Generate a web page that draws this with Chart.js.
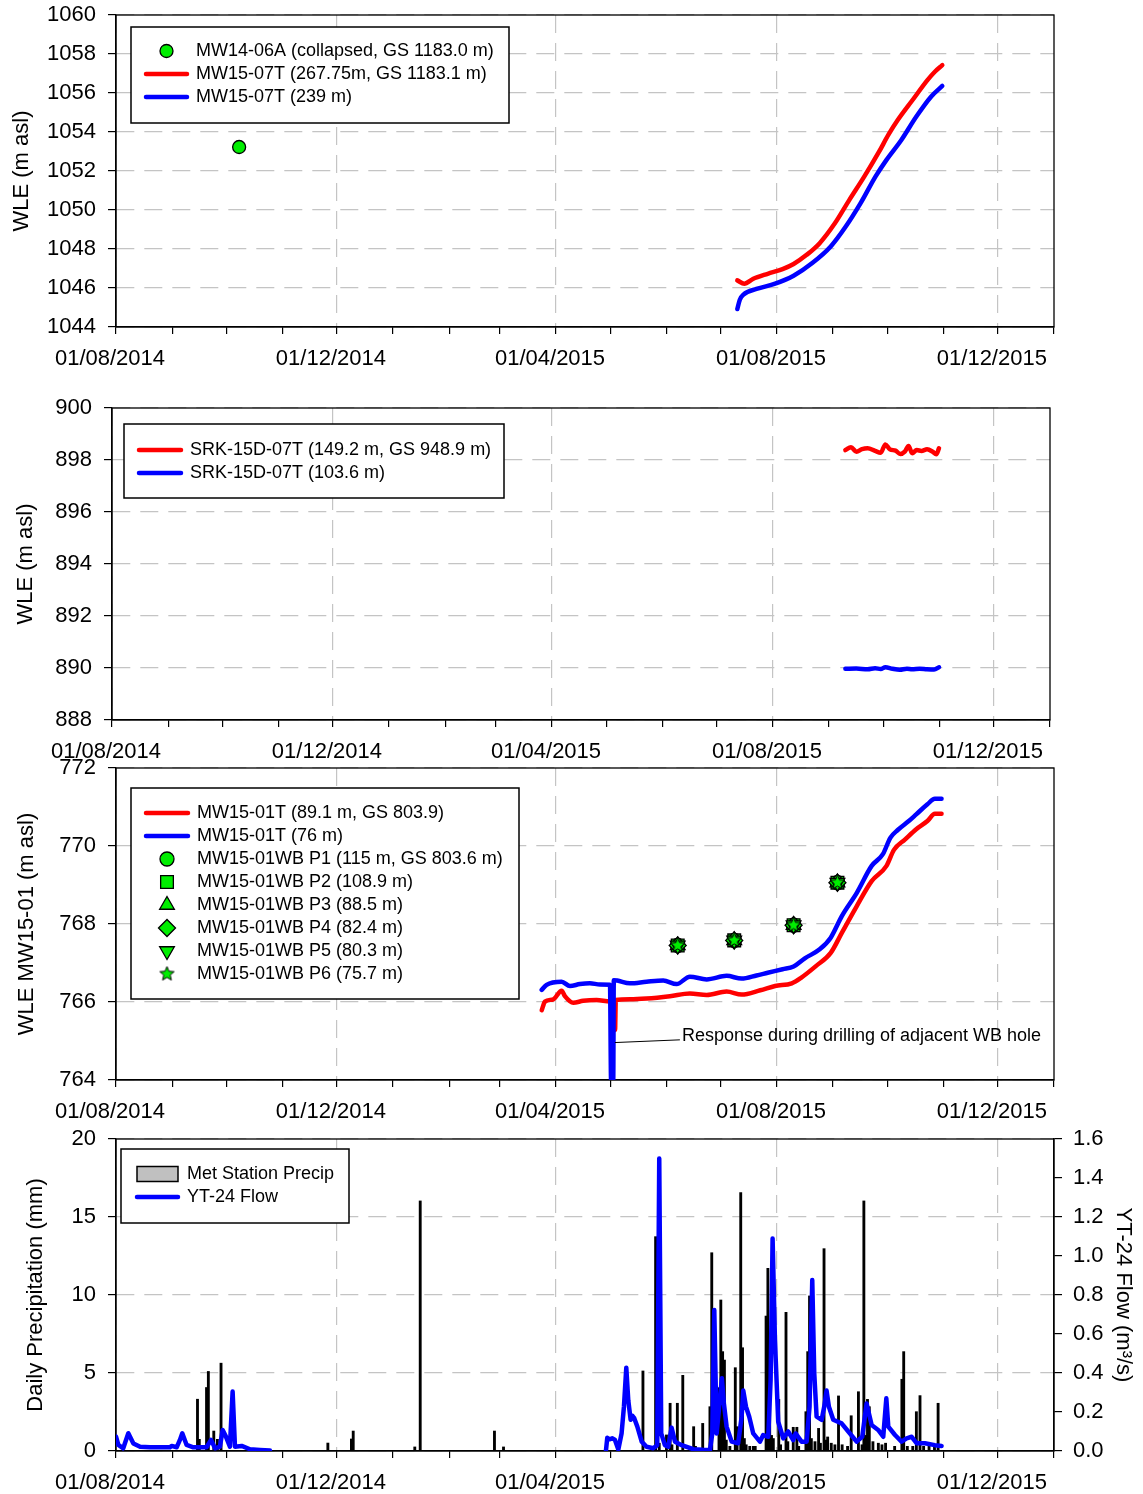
<!DOCTYPE html>
<html>
<head>
<meta charset="utf-8">
<script src="https://cdn.jsdelivr.net/npm/chart.js@4.4.1/dist/chart.umd.min.js"></script>
<style>
    html, body { margin: 0; padding: 0; background: #fff; }
    #wrap { position: relative; width: 1143px; height: 1494px; overflow: hidden; }
    canvas { position: absolute; left: 0; }
</style>
</head>
<body>
<div id="wrap">
    <canvas id="c1" width="1143" height="380" style="top:0px"></canvas>
    <canvas id="c2" width="1143" height="380" style="top:390px"></canvas>
    <canvas id="c3" width="1143" height="380" style="top:750px"></canvas>
    <canvas id="c4" width="1143" height="374" style="top:1120px"></canvas>
</div>
<script>
(function () {
    'use strict';

    /* ── Time axis: x values are days after 01/08/2014 ───── */
    var X_MIN = 0, X_MAX = 518;
    var majorDays   = [0, 122, 243, 365, 487];
    var majorLabels = ['01/08/2014', '01/12/2014', '01/04/2015', '01/08/2015', '01/12/2015'];
    var monthDays   = [0, 31, 61, 92, 122, 153, 184, 212, 243, 273, 304, 334, 365, 396, 426, 457, 487, 518];

    /* ── Panel 1: MW14-06A / MW15-07T ─────────────────────── */
    var mw1406Day = [68];
    var mw1406Wle = [1053.23];
    var mw1507aDay = [343.1, 347, 351.7, 359.9, 368.1, 374.2, 381.4, 388.6, 396.8, 405, 413.2, 421.4, 426.5, 431.7, 439.9, 448.1, 452.2, 456.3];
    var mw1507aWle = [1046.39, 1046.22, 1046.46, 1046.73, 1046.97, 1047.23, 1047.70, 1048.30, 1049.29, 1050.52, 1051.71, 1052.99, 1053.85, 1054.61, 1055.64, 1056.66, 1057.09, 1057.43];
    var mw1507bDay = [343.1, 344.5, 346.5, 353.7, 364, 374.2, 384.5, 394.7, 403, 411.2, 419.4, 425.5, 433.7, 441.9, 450.1, 456.3];
    var mw1507bWle = [1044.92, 1045.40, 1045.66, 1045.95, 1046.22, 1046.63, 1047.28, 1048.13, 1049.15, 1050.35, 1051.71, 1052.57, 1053.59, 1054.78, 1055.81, 1056.36];

    /* ── Panel 2: SRK-15D-07T ─────────────────────────────── */
    var srkaDay = [405, 408.1, 411.1, 414.2, 417.3, 421.4, 424.5, 427.1, 429.6, 432.7, 435.3, 437.8, 439.9, 441.9, 444.4, 447, 450.1, 453.2, 455.2, 456.7];
    var srkaWle = [898.38, 898.49, 898.32, 898.42, 898.45, 898.35, 898.28, 898.60, 898.41, 898.36, 898.23, 898.32, 898.54, 898.26, 898.38, 898.35, 898.41, 898.32, 898.22, 898.45];
    var srkbDay = [405, 411, 417.3, 421.4, 424.5, 427.1, 431, 435, 439, 441.9, 446, 450, 454, 456.7];
    var srkbWle = [889.97, 889.98, 889.95, 889.99, 889.96, 890.03, 889.97, 889.93, 889.97, 889.95, 889.97, 889.95, 889.94, 890.03];

    /* ── Panel 3: MW15-01T and MW15-01WB ──────────────────── */
    var mw1501aDay = [235.1, 236.9, 241.5, 246.1, 247.9, 252.5, 258, 265.4, 272.8, 275.4, 275.6, 276.0, 283.8, 293, 305.9, 316.9, 326.2, 337.2, 345.5, 355.8, 364, 373.2, 378.3, 386.5, 394.7, 400.9, 409.1, 417.3, 425.5, 429.6, 435.8, 441.9, 448.1, 452.2, 455.9];
    var mw1501aWle = [765.79, 766.01, 766.07, 766.29, 766.15, 765.98, 766.03, 766.05, 766.01, 766.00, 765.28, 766.05, 766.07, 766.09, 766.15, 766.22, 766.18, 766.27, 766.19, 766.30, 766.41, 766.48, 766.62, 766.92, 767.26, 767.78, 768.46, 769.10, 769.49, 769.90, 770.17, 770.43, 770.64, 770.83, 770.83];
    var mw1501bDay = [235.1, 237.8, 246.1, 250.7, 256.2, 261.7, 267.3, 272.8, 273.4, 274.6, 274.9, 276.8, 283.8, 293, 302.2, 309.6, 316.9, 326.2, 337.2, 345.5, 353.7, 359.9, 368.1, 374.2, 380.4, 388.6, 394.7, 400.9, 409.1, 417.3, 423.5, 427.6, 431.7, 437.8, 441.9, 448.1, 452.2, 455.9];
    var mw1501bWle = [766.31, 766.44, 766.52, 766.41, 766.46, 766.48, 766.45, 766.44, 764.0, 764.0, 766.56, 766.55, 766.48, 766.52, 766.55, 766.46, 766.65, 766.58, 766.67, 766.60, 766.68, 766.75, 766.84, 766.91, 767.12, 767.35, 767.65, 768.21, 768.80, 769.49, 769.79, 770.21, 770.41, 770.64, 770.81, 771.07, 771.21, 771.21];
    var wbDay = [310.2, 341.4, 374.2, 398.4];
    var wbP1 = [767.45, 767.58, 767.97, 769.06];
    var wbP2 = [767.45, 767.58, 767.97, 769.06];
    var wbP3 = [767.45, 767.58, 767.97, 769.06];
    var wbP4 = [767.45, 767.58, 767.97, 769.06];
    var wbP5 = [767.45, 767.58, 767.97, 769.06];
    var wbP6 = [767.45, 767.58, 767.97, 769.06];
    var noteText = 'Response during drilling of adjacent WB hole';
    var noteFrom = [275.5, 764.96];
    var noteTo   = [311.4, 765.03];

    /* ── Panel 4: precipitation and YT-24 flow ────────────── */
    var precipDay = [45, 46, 50, 51, 54, 56, 58, 117, 130, 131, 165, 168, 209, 214,
        291, 298, 300, 304, 306, 307, 310, 313, 319, 320, 324, 328, 329, 333, 334, 335, 336, 337, 339,
        342, 343, 345, 346, 347, 348, 350, 352, 353, 359, 360, 361, 362, 363, 366, 367, 370, 371,
        374, 376, 377, 381, 382, 383, 384, 386, 388, 389, 391, 392, 393, 395, 397, 399, 401, 404,
        406, 410, 412, 413, 414, 415, 416, 418, 421, 423, 425, 430, 434, 435, 437, 440, 442, 444,
        446, 449, 452, 454];
    var precipMm = [3.32, 0.75, 4.07, 5.10, 1.28, 0.75, 5.63, 0.51, 0.77, 1.28, 0.26, 16.03, 1.28, 0.26,
        5.13, 13.74, 0.5, 1.03, 3.06, 0.4, 3.06, 4.85, 1.56, 0.3, 1.77, 2.84, 12.71, 4.06, 9.68, 6.37, 5.83, 0.7, 0.3,
        5.34, 1.56, 16.56, 6.62, 0.8, 0.4, 0.3, 0.3, 0.3, 8.65, 11.71, 5.09, 1.0, 0.8, 3.31, 0.4, 8.89, 0.6,
        1.52, 1.52, 0.3, 2.52, 6.37, 9.94, 0.8, 0.6, 1.45, 0.5, 12.97, 0.7, 0.9, 0.5, 0.4, 3.53, 0.4, 0.3,
        2.26, 3.80, 0.4, 16.03, 1.0, 3.31, 2.84, 0.6, 0.5, 0.4, 0.5, 0.3, 4.6, 6.37, 0.3, 0.3, 2.52, 3.55,
        0.3, 0.3, 0.3, 3.06];
    var flowDay = [0, 1.3, 4, 6.8, 9.6, 13.3, 18.8, 29.8, 30.7, 33.5, 35.3, 36.6, 39, 42.7, 50, 52.5, 54.7, 57.4, 58.9, 60.7, 62.9, 64.4, 65.7, 69.4, 74, 79.5, 85,
        178,
        270.6, 271.3, 272.5, 274, 275.5, 277.4, 279.2, 280.5, 281.8, 282.9, 284.2, 285.2, 286.2, 287.9, 290.3, 293, 296.7, 298.9, 300, 301.1, 303.1, 305, 306.8, 308.7, 312.4, 318.8, 324, 328,
        329.3, 330.4, 331.7, 333.1, 334.6, 335.7, 337.2, 340, 343.6, 345.5, 346.4, 347.9, 349.7, 351.9, 355.6, 357.4, 360.2, 361.5, 362.6, 363.9, 365.7, 368.5, 371.2, 374, 375.3, 378.6,
        381.4, 383, 384.5, 385.6, 386.9, 389.7, 391.1, 392.4, 393.7, 396.1, 400.7, 404.4, 409, 412.1, 414.5, 417.3, 420.9, 423.7, 425.4, 426.5, 430.2, 433.8, 436.6, 439.4, 442.1, 446.7, 452.2, 455.9];
    var flowM3s = [0.074, 0.031, 0.014, 0.091, 0.039, 0.022, 0.019, 0.019, 0.026, 0.019, 0.057, 0.091, 0.031, 0.019, 0.019, 0.057, 0.014, 0.022, 0.108, 0.074, 0.022, 0.305, 0.022, 0.026, 0.009, 0.005, 0.002,
        null,
        0.005, 0.068, 0.06, 0.065, 0.058, 0.008, 0.09, 0.227, 0.427, 0.26, 0.16, 0.18, 0.168, 0.125, 0.048, 0.022, 0.014, 0.03, 1.50, 0.09, 0.03, 0.022, 0.12, 0.048, 0.03, 0.009, 0.006, 0.005,
        0.09, 0.723, 0.09, 0.227, 0.373, 0.244, 0.125, 0.048, 0.04, 0.176, 0.31, 0.227, 0.176, 0.09, 0.048, 0.082, 0.073, 0.364, 1.09, 0.57, 0.15, 0.065, 0.1, 0.056, 0.09, 0.048,
        0.048, 0.227, 0.877, 0.4, 0.176, 0.16, 0.227, 0.31, 0.227, 0.16, 0.142, 0.1, 0.048, 0.073, 0.244, 0.133, 0.108, 0.073, 0.27, 0.125, 0.082, 0.048, 0.065, 0.073, 0.04, 0.04, 0.03, 0.026];

    /* ── Style ────────────────────────────────────────────── */
    var FONT  = '"Liberation Sans", Arial, Helvetica, sans-serif';
    var RED   = '#ff0000';
    var BLUE  = '#0000ff';
    var GREEN = '#00ee00';
    var GRID  = '#c4c4c4';
    var DASH  = [18, 10];

    Chart.defaults.font.family = FONT;
    Chart.defaults.color = '#000';
    Chart.defaults.animation = false;
    Chart.defaults.events = [];
    Chart.defaults.plugins.legend.display = false;
    Chart.defaults.plugins.tooltip.enabled = false;

    /* ── Helpers ──────────────────────────────────────────── */
    function pts(xs, ys) {
        return xs.map(function (x, i) { return { x: x, y: ys[i] }; });
    }

    function starImage(r) {
        var c = document.createElement('canvas');
        var s = Math.ceil(r * 2 + 4);
        c.width = s; c.height = s;
        var g = c.getContext('2d');
        g.beginPath();
        for (var i = 0; i < 10; i++) {
            var rad = i % 2 ? r * 0.45 : r;
            var a = -Math.PI / 2 + i * Math.PI / 5;
            g.lineTo(s / 2 + rad * Math.cos(a), s / 2 + rad * Math.sin(a));
        }
        g.closePath();
        g.fillStyle = GREEN; g.fill();
        g.lineWidth = 1; g.strokeStyle = '#000'; g.stroke();
        return c;
    }
    var STAR = starImage(7.5);

    function lineSet(label, xs, ys, color, order, straight) {
        return {
            label: label, data: pts(xs, ys),
            borderColor: color, backgroundColor: color, borderWidth: 4.5,
            pointRadius: 0, fill: false, order: order,
            cubicInterpolationMode: straight ? 'default' : 'monotone', tension: 0,
            borderCapStyle: 'round', borderJoinStyle: 'round'
        };
    }

    function markSet(label, xs, ys, style, radius, rotation, order) {
        return {
            label: label, data: pts(xs, ys), showLine: false, order: order,
            pointStyle: style, pointRadius: radius, pointRotation: rotation || 0,
            pointBackgroundColor: GREEN, pointBorderColor: '#000', pointBorderWidth: 1.3,
            borderColor: '#000', backgroundColor: GREEN
        };
    }

    function dateAxis(height) {
        return {
            type: 'linear', min: X_MIN, max: X_MAX, offset: false,
            afterBuildTicks: function (s) {
                s.ticks = monthDays.map(function (d) {
                    return { value: d, major: majorDays.indexOf(d) >= 0 };
                });
            },
            afterFit: function (s) { s.height = height; },
            ticks: {
                autoSkip: false, maxRotation: 0, minRotation: 0, padding: 12, labelOffset: -6,
                font: { size: 22 }, color: '#000',
                callback: function (v) {
                    var i = majorDays.indexOf(v);
                    return i >= 0 ? majorLabels[i] : '';
                }
            },
            grid: {
                offset: false, lineWidth: 1.2, tickLength: 7, tickWidth: 1.2, tickColor: '#000',
                tickBorderDash: [],
                color: function (c) { return c.tick && c.tick.major ? GRID : 'rgba(0,0,0,0)'; }
            },
            border: { color: '#000', width: 1.3, dash: DASH }
        };
    }

    function valueAxis(o) {
        return {
            type: 'linear', position: o.position || 'left', min: o.min, max: o.max,
            afterFit: function (s) {
                s.width = o.width;
                // keep the plot box where the layout padding puts it
                s.paddingTop = 0;
                s.paddingBottom = 0;
            },
            ticks: {
                stepSize: o.step, padding: o.pad || 12, font: { size: 22 }, color: '#000',
                callback: o.fmt || function (v) { return String(v); }
            },
            grid: {
                color: GRID, lineWidth: 1.2, tickLength: 8, tickWidth: 1.2, tickColor: '#000',
                tickBorderDash: [], drawOnChartArea: o.grid !== false
            },
            border: { color: '#000', width: 1.3, dash: DASH },
            title: {
                display: true, text: o.title, color: '#000', font: { size: 22 },
                padding: { top: o.titlePad, bottom: 0 }
            }
        };
    }

    /* ── Plugins: frame, boxed legend, note ───────────────── */
    var frame = {
        id: 'frame',
        beforeDatasetsDraw: function (chart) {
            var a = chart.chartArea, ctx = chart.ctx;
            ctx.save();
            ctx.lineWidth = 1.3;
            ctx.strokeStyle = '#000';
            ctx.strokeRect(a.left, a.top, a.right - a.left, a.bottom - a.top);
            ctx.restore();
        }
    };

    var boxLegend = {
        id: 'boxLegend',
        afterDraw: function (chart, args, o) {
            var ctx = chart.ctx;
            ctx.save();
            ctx.fillStyle = '#fff';
            ctx.fillRect(o.x, o.y, o.w, o.h);
            ctx.lineWidth = 1.5;
            ctx.strokeStyle = '#000';
            ctx.strokeRect(o.x, o.y, o.w, o.h);
            chart.data.datasets.forEach(function (ds, i) {
                var y  = o.y + o.first + i * o.gap;
                var x1 = o.x + o.symL, x2 = o.x + o.symR, xc = (x1 + x2) / 2;
                if (ds.type === 'bar') {
                    ctx.fillStyle = ds.legendFill;
                    ctx.fillRect(x1, y - 7.5, x2 - x1, 15);
                    ctx.lineWidth = 1.5; ctx.strokeStyle = '#000';
                    ctx.strokeRect(x1, y - 7.5, x2 - x1, 15);
                } else if (ds.showLine === false) {
                    if (typeof ds.pointStyle === 'object') {
                        ctx.drawImage(ds.pointStyle, xc - ds.pointStyle.width / 2, y - ds.pointStyle.height / 2);
                    } else {
                        ctx.fillStyle = ds.pointBackgroundColor;
                        ctx.strokeStyle = ds.pointBorderColor;
                        ctx.lineWidth = ds.pointBorderWidth;
                        Chart.helpers.drawPoint(ctx, {
                            pointStyle: ds.pointStyle, radius: ds.pointRadius,
                            rotation: ds.pointRotation, borderWidth: ds.pointBorderWidth
                        }, xc, y);
                    }
                } else {
                    ctx.strokeStyle = ds.borderColor;
                    ctx.lineWidth = 4.5; ctx.lineCap = 'round';
                    ctx.beginPath(); ctx.moveTo(x1, y); ctx.lineTo(x2, y); ctx.stroke();
                }
                ctx.fillStyle = '#000';
                ctx.font = '18px ' + FONT;
                ctx.textBaseline = 'middle';
                ctx.textAlign = 'left';
                ctx.fillText(ds.label, o.x + o.textX, y);
            });
            ctx.restore();
        }
    };

    var note = {
        id: 'note',
        afterDatasetsDraw: function (chart, args, o) {
            if (!o.text) return;
            var xs = chart.scales.x, ys = chart.scales.y, ctx = chart.ctx;
            var x1 = xs.getPixelForValue(o.from[0]), y1 = ys.getPixelForValue(o.from[1]);
            var x2 = xs.getPixelForValue(o.to[0]),   y2 = ys.getPixelForValue(o.to[1]);
            ctx.save();
            ctx.strokeStyle = '#000'; ctx.lineWidth = 1;
            ctx.beginPath(); ctx.moveTo(x1, y1); ctx.lineTo(x2, y2); ctx.stroke();
            ctx.fillStyle = '#000';
            ctx.font = '18px ' + FONT;
            ctx.textBaseline = 'middle';
            ctx.fillText(o.text, x2 + 2, y2 - 4);
            ctx.restore();
        }
    };

    /* ── Panel 1 ──────────────────────────────────────────── */
    new Chart(document.getElementById('c1'), {
        type: 'line',
        data: {
            datasets: [
                markSet('MW14-06A (collapsed, GS 1183.0 m)', mw1406Day, mw1406Wle, 'circle', 6.5, 0, 0),
                lineSet('MW15-07T (267.75m, GS 1183.1 m)', mw1507aDay, mw1507aWle, RED, 2),
                lineSet('MW15-07T (239 m)', mw1507bDay, mw1507bWle, BLUE, 1)
            ]
        },
        options: {
            responsive: false,
            layout: { padding: { top: 15, right: 89, bottom: 0, left: 0 } },
            scales: {
                x: dateAxis(53),
                y: valueAxis({ min: 1044, max: 1060, step: 2, width: 116, title: 'WLE (m asl)', titlePad: 9 })
            },
            plugins: {
                boxLegend: { x: 131, y: 27, w: 378, h: 96, first: 24, gap: 23, symL: 15, symR: 56, textX: 65 }
            }
        },
        plugins: [frame, boxLegend]
    });

    /* ── Panel 2 ──────────────────────────────────────────── */
    new Chart(document.getElementById('c2'), {
        type: 'line',
        data: {
            datasets: [
                lineSet('SRK-15D-07T (149.2 m, GS 948.9 m)', srkaDay, srkaWle, RED, 2),
                lineSet('SRK-15D-07T (103.6 m)', srkbDay, srkbWle, BLUE, 1)
            ]
        },
        options: {
            responsive: false,
            layout: { padding: { top: 18, right: 93, bottom: 0, left: 0 } },
            scales: {
                x: dateAxis(50),
                y: valueAxis({ min: 888, max: 900, step: 2, width: 112, title: 'WLE (m asl)', titlePad: 13 })
            },
            plugins: {
                boxLegend: { x: 124, y: 34, w: 380, h: 74, first: 26, gap: 23, symL: 15, symR: 57, textX: 66 }
            }
        },
        plugins: [frame, boxLegend]
    });

    /* ── Panel 3 ──────────────────────────────────────────── */
    new Chart(document.getElementById('c3'), {
        type: 'line',
        data: {
            datasets: [
                lineSet('MW15-01T (89.1 m, GS 803.9)', mw1501aDay, mw1501aWle, RED, 10),
                lineSet('MW15-01T (76 m)', mw1501bDay, mw1501bWle, BLUE, 9),
                markSet('MW15-01WB P1 (115 m, GS 803.6 m)', wbDay, wbP1, 'circle', 7, 0, 6),
                markSet('MW15-01WB P2 (108.9 m)', wbDay, wbP2, 'rect', 9, 0, 5),
                markSet('MW15-01WB P3 (88.5 m)', wbDay, wbP3, 'triangle', 8.5, 0, 4),
                markSet('MW15-01WB P4 (82.4 m)', wbDay, wbP4, 'rectRot', 8.5, 0, 3),
                markSet('MW15-01WB P5 (80.3 m)', wbDay, wbP5, 'triangle', 8.5, 180, 2),
                markSet('MW15-01WB P6 (75.7 m)', wbDay, wbP6, STAR, 7.5, 0, 1)
            ]
        },
        options: {
            responsive: false,
            layout: { padding: { top: 18, right: 89, bottom: 0, left: 0 } },
            scales: {
                x: dateAxis(50),
                y: valueAxis({ min: 764, max: 772, step: 2, width: 116, title: 'WLE MW15-01 (m asl)', titlePad: 14 })
            },
            plugins: {
                boxLegend: { x: 131, y: 38, w: 388, h: 211, first: 25, gap: 23, symL: 15, symR: 57, textX: 66 },
                note: { text: noteText, from: noteFrom, to: noteTo }
            }
        },
        plugins: [frame, boxLegend, note]
    });

    /* ── Panel 4 ──────────────────────────────────────────── */
    var precipSet = {
        type: 'bar', label: 'Met Station Precip', data: pts(precipDay, precipMm),
        backgroundColor: '#000', borderWidth: 0, barThickness: 2.2,
        legendFill: '#c0c0c0', yAxisID: 'y', order: 1
    };
    var flowSet = lineSet('YT-24 Flow', flowDay, flowM3s, BLUE, 0, true);
    flowSet.yAxisID = 'y1';

    new Chart(document.getElementById('c4'), {
        type: 'line',
        data: { datasets: [precipSet, flowSet] },
        options: {
            responsive: false,
            layout: { padding: { top: 19, right: 0, bottom: 0, left: 0 } },
            scales: {
                x: dateAxis(43),
                y: valueAxis({ min: 0, max: 20, step: 5, width: 116, title: 'Daily Precipitation (mm)', titlePad: 23 }),
                y1: valueAxis({
                    position: 'right', min: 0, max: 1.6, step: 0.2, width: 89, pad: 11, grid: false,
                    title: 'YT-24 Flow (m\u00b3/s)', titlePad: 7,
                    fmt: function (v) { return v.toFixed(1); }
                })
            },
            plugins: {
                boxLegend: { x: 121, y: 29, w: 228, h: 74, first: 25, gap: 23, symL: 16, symR: 57, textX: 66 }
            }
        },
        plugins: [frame, boxLegend]
    });
})();
</script>
</body>
</html>
